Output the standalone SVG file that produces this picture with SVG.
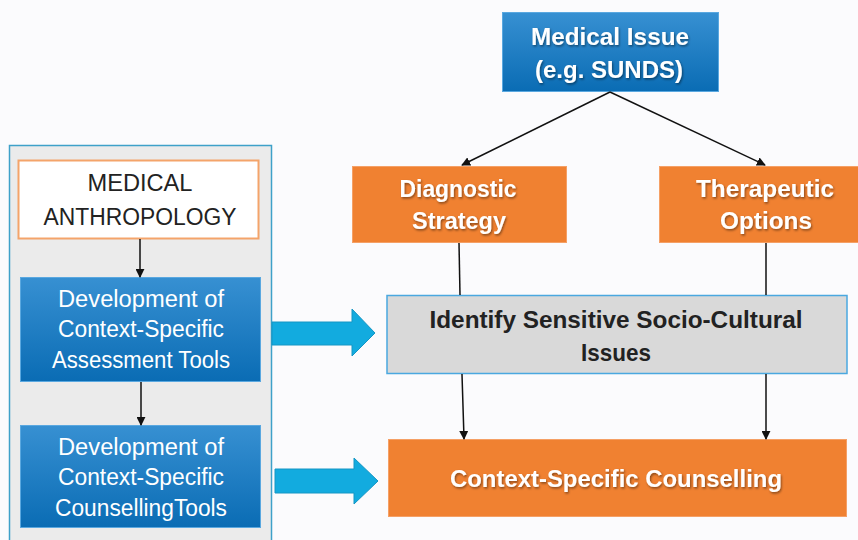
<svg xmlns="http://www.w3.org/2000/svg" width="858" height="540" viewBox="0 0 858 540">
  <defs>
    <linearGradient id="blueGrad" x1="0" y1="0" x2="0" y2="1">
      <stop offset="0" stop-color="#3790d2"/>
      <stop offset="1" stop-color="#0a6cb4"/>
    </linearGradient>
    <filter id="txtShadow" x="-10%" y="-20%" width="120%" height="140%">
      <feDropShadow dx="1" dy="1.5" stdDeviation="0.8" flood-color="#000" flood-opacity="0.45"/>
    </filter>
    <marker id="arrow" viewBox="0 0 10 10" refX="9" refY="5" markerWidth="9" markerHeight="9" markerUnits="userSpaceOnUse" orient="auto">
      <path d="M0,0 L10,5 L0,10 Z" fill="#111"/>
    </marker>
  </defs>
  <style>
    .bold { font-family: "Liberation Sans", Arial, sans-serif; font-weight: bold; font-size: 24px; text-anchor: middle; }
    .reg { font-family: "Liberation Sans", Arial, sans-serif; font-size: 23px; text-anchor: middle; }
    .white { fill: #ffffff; }
    .dark { fill: #222222; }
    .orange { fill: #f08131; stroke: #f5a066; stroke-width: 1; }
    .blue { fill: url(#blueGrad); stroke: #5aa8e0; stroke-width: 1; }
    .conn { stroke: #111; stroke-width: 1.5; fill: none; }
    .fat { fill: #12abdf; stroke: #1596c4; stroke-width: 1; }
  </style>

  <rect x="0" y="0" width="858" height="540" fill="#fbfbfd"/>

  <!-- left container -->
  <g id="container">
    <rect x="9.5" y="145.5" width="262" height="410" fill="#ebebeb" stroke="#3ea1c9" stroke-width="1.5"/>
  </g>

  <g id="medical-anthropology">
    <rect x="18.5" y="160.5" width="240" height="78" fill="#ffffff" stroke="#f4a46a" stroke-width="2"/>
    <text class="reg dark" x="140" y="191" textLength="105" lengthAdjust="spacingAndGlyphs">MEDICAL</text>
    <text class="reg dark" x="140" y="225" textLength="193" lengthAdjust="spacingAndGlyphs">ANTHROPOLOGY</text>
  </g>

  <g id="assessment-tools">
    <rect class="blue" x="20.5" y="277.5" width="240" height="104"/>
    <text class="reg white" x="141" y="307" textLength="166" lengthAdjust="spacingAndGlyphs">Development of</text>
    <text class="reg white" x="141" y="337" textLength="166" lengthAdjust="spacingAndGlyphs">Context-Specific</text>
    <text class="reg white" x="141" y="368" textLength="178" lengthAdjust="spacingAndGlyphs">Assessment Tools</text>
  </g>

  <g id="counselling-tools">
    <rect class="blue" x="20.5" y="425.5" width="240" height="102"/>
    <text class="reg white" x="141" y="455" textLength="166" lengthAdjust="spacingAndGlyphs">Development of</text>
    <text class="reg white" x="141" y="485" textLength="166" lengthAdjust="spacingAndGlyphs">Context-Specific</text>
    <text class="reg white" x="141" y="516" textLength="172" lengthAdjust="spacingAndGlyphs">CounsellingTools</text>
  </g>

  <g id="medical-issue">
    <rect class="blue" x="502.5" y="12.5" width="216" height="79"/>
    <text class="bold white" x="610" y="45" textLength="158" lengthAdjust="spacingAndGlyphs" filter="url(#txtShadow)">Medical Issue</text>
    <text class="bold white" x="609" y="78" textLength="148" lengthAdjust="spacingAndGlyphs" filter="url(#txtShadow)">(e.g. SUNDS)</text>
  </g>

  <g id="diagnostic-strategy">
    <rect class="orange" x="352.5" y="166.5" width="214" height="76"/>
    <text class="bold white" x="458" y="197" textLength="117" lengthAdjust="spacingAndGlyphs" filter="url(#txtShadow)">Diagnostic</text>
    <text class="bold white" x="459" y="229" textLength="94" lengthAdjust="spacingAndGlyphs" filter="url(#txtShadow)">Strategy</text>
  </g>

  <g id="therapeutic-options">
    <rect class="orange" x="659.5" y="166.5" width="205" height="76"/>
    <text class="bold white" x="765" y="197" textLength="138" lengthAdjust="spacingAndGlyphs" filter="url(#txtShadow)">Therapeutic</text>
    <text class="bold white" x="766" y="229" textLength="92" lengthAdjust="spacingAndGlyphs" filter="url(#txtShadow)">Options</text>
  </g>

  <g id="identify-issues">
    <rect x="387" y="295.5" width="460" height="78" fill="#d9d9d9" stroke="#4aa8e0" stroke-width="1.5"/>
    <text class="bold dark" x="616" y="328" textLength="373" lengthAdjust="spacingAndGlyphs">Identify Sensitive Socio-Cultural</text>
    <text class="bold dark" x="616" y="361" textLength="70" lengthAdjust="spacingAndGlyphs">Issues</text>
  </g>

  <g id="context-counselling">
    <rect class="orange" x="388.5" y="439.5" width="458" height="77"/>
    <text class="bold white" x="616" y="487" textLength="332" lengthAdjust="spacingAndGlyphs" filter="url(#txtShadow)">Context-Specific Counselling</text>
  </g>

  <g id="connectors">
    <line class="conn" x1="610" y1="92" x2="462" y2="165" marker-end="url(#arrow)"/>
    <line class="conn" x1="610" y1="92" x2="765" y2="165" marker-end="url(#arrow)"/>
    <line class="conn" x1="459" y1="243" x2="460" y2="295"/>
    <line class="conn" x1="766" y1="243" x2="766" y2="295"/>
    <line class="conn" x1="462" y1="374" x2="464" y2="439" marker-end="url(#arrow)"/>
    <line class="conn" x1="766" y1="374" x2="766" y2="439" marker-end="url(#arrow)"/>
    <line class="conn" x1="140" y1="239" x2="140" y2="277" marker-end="url(#arrow)"/>
    <line class="conn" x1="141" y1="382" x2="141" y2="425" marker-end="url(#arrow)"/>
    <path class="fat" d="M272,322 L352,322 L352,309 L375,333 L352,356 L352,345 L272,345 Z"/>
    <path class="fat" d="M275,469 L354,469 L354,458 L378,481 L354,504 L354,493 L275,493 Z"/>
  </g>
</svg>
